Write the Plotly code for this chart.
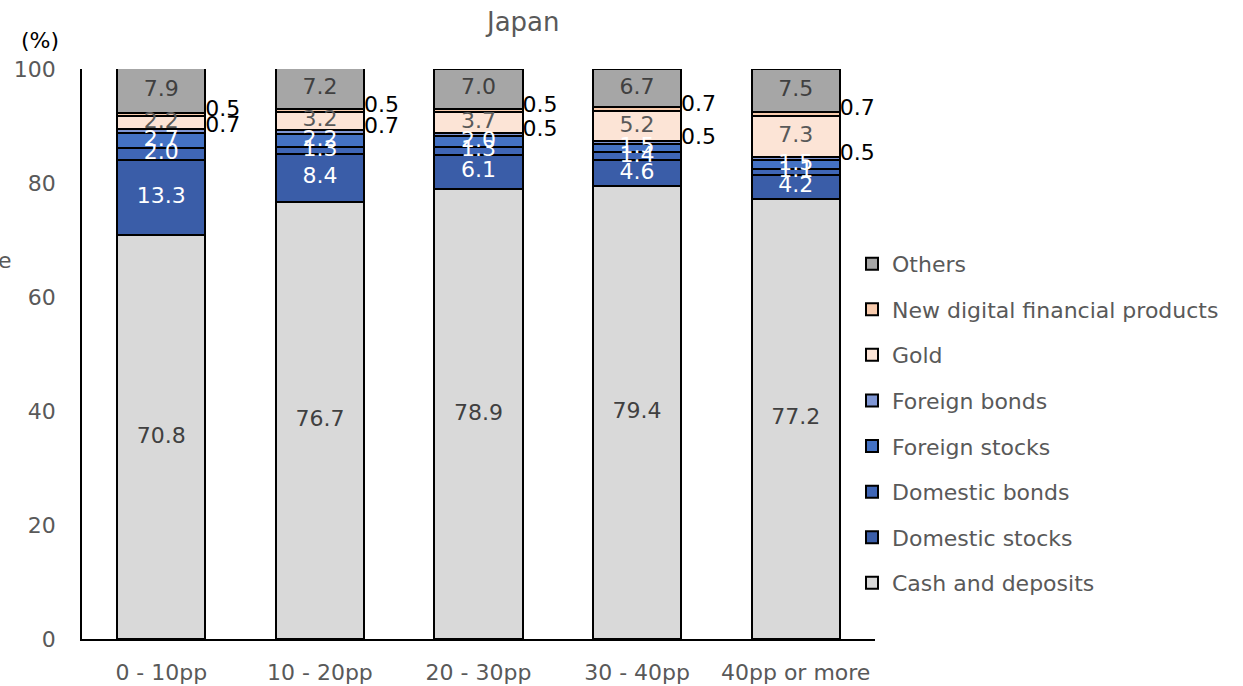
import numpy as np
import plotly.graph_objects as go

categories = ["0 - 10pp", "10 - 20pp", "20 - 30pp", "30 - 40pp", "40pp or more"]

cash_and_deposits = [70.8, 76.7, 78.9, 79.4, 77.2]
domestic_stocks = [13.3, 8.4, 6.1, 4.6, 4.2]
domestic_bonds = [2.0, 1.3, 1.3, 1.4, 1.1]
foreign_stocks = [2.7, 2.2, 2.0, 1.5, 1.5]
foreign_bonds = [0.7, 0.7, 0.5, 0.5, 0.5]
gold = [2.2, 3.2, 3.7, 5.2, 7.3]
new_digital = [0.5, 0.5, 0.5, 0.7, 0.7]
others = [7.9, 7.2, 7.0, 6.7, 7.5]

# name, values, fill colour, label colour, label placement
series = [
    ("Cash and deposits", cash_and_deposits, "#d9d9d9", "#404040", "inside"),
    ("Domestic stocks", domestic_stocks, "#3a5da8", "#ffffff", "inside"),
    ("Domestic bonds", domestic_bonds, "#3f66b6", "#ffffff", "inside"),
    ("Foreign stocks", foreign_stocks, "#4472c4", "#ffffff", "inside"),
    ("Foreign bonds", foreign_bonds, "#7f96d4", "#000000", "outside"),
    ("Gold", gold, "#fce4d6", "#595959", "inside"),
    ("New digital financial products", new_digital, "#f8cbad", "#000000", "outside"),
    ("Others", others, "#a6a6a6", "#404040", "inside"),
]

FONT = "DejaVu Sans"
FS = 22
BAR_WIDTH = 0.555
x = np.arange(len(categories))

fig = go.Figure()
base = np.zeros(len(categories))
label_traces = []
for i, (name, vals, color, txtcolor, place) in enumerate(series):
    vals = np.array(vals, dtype=float)
    fig.add_trace(go.Bar(
        x=x, y=vals, name=name, legendgroup=name, legendrank=1000 - i,
        marker=dict(color=color, line=dict(color="#000000", width=2)),
        width=BAR_WIDTH, hoverinfo="name+y",
    ))
    mids = base + vals / 2
    if place == "inside":
        lx = x
        pos = "middle center"
    else:
        lx = x + BAR_WIDTH / 2
        pos = "middle right"
        mids = mids + 0.7
    label_traces.append(go.Scatter(
        x=lx, y=mids, mode="text", text=[f"{v:.1f}" for v in vals],
        textposition=pos, textfont=dict(family=FONT, size=FS, color=txtcolor),
        showlegend=False, hoverinfo="skip", cliponaxis=False,
    ))
    base = base + vals

for t in label_traces:
    fig.add_trace(t)

fig.update_layout(
    width=1243, height=686,
    barmode="stack", bargap=0,
    plot_bgcolor="#ffffff", paper_bgcolor="#ffffff",
    margin=dict(l=82, r=368, t=69, b=47),
    font=dict(family=FONT, size=FS, color="#595959"),
    showlegend=True,
    legend=dict(
        x=0.971, y=0.695, xanchor="left", yanchor="top",
        traceorder="grouped", tracegroupgap=14,
        font=dict(family=FONT, size=FS, color="#595959"),
        bgcolor="rgba(0,0,0,0)",
    ),
    xaxis=dict(
        tickvals=list(x), ticktext=categories, range=[-0.5, len(categories) - 0.5],
        showline=True, linecolor="#000000", linewidth=1.5, automargin=False,
        showgrid=False, zeroline=False, ticks="", ticklabelstandoff=13,
        tickfont=dict(family=FONT, size=FS, color="#595959"),
    ),
    yaxis=dict(
        range=[0, 100], tickvals=[0, 20, 40, 60, 80, 100],
        showline=True, linecolor="#000000", linewidth=1.5, automargin=False,
        showgrid=False, zeroline=False, ticks="", ticklabelstandoff=20,
        tickfont=dict(family=FONT, size=FS, color="#595959"),
    ),
    annotations=[
        dict(text="Japan", xref="paper", yref="paper", x=0.556, y=1.0, yshift=47,
             xanchor="center", yanchor="middle", showarrow=False,
             font=dict(family=FONT, size=26, color="#595959")),
        dict(text="(%)", xref="paper", yref="paper", x=0, xshift=-42, y=1.0, yshift=29,
             xanchor="center", yanchor="middle", showarrow=False,
             font=dict(family=FONT, size=FS, color="#000000")),
        dict(text="e", xref="paper", yref="paper", x=0, xshift=-86, y=0.664,
             xanchor="left", yanchor="middle", showarrow=False,
             font=dict(family=FONT, size=FS, color="#595959")),
    ],
)

fig.write_html("out.html")
